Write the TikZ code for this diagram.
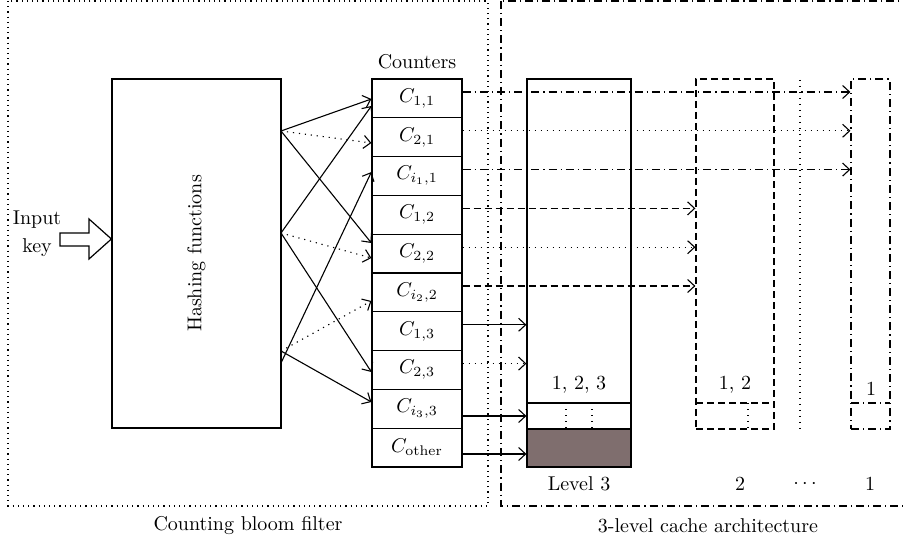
\documentclass[tikz,border=0pt]{standalone}
\usetikzlibrary{arrows.meta}
\definecolor{brownfill}{RGB}{127,110,110}
\begin{document}
\begin{tikzpicture}[x=0.5pt,y=-0.5pt,
  lw/.style={line width=0.6pt},
  box/.style={draw,lw,rectangle,inner sep=0pt},
  ctr/.style={box,minimum width=45pt,minimum height=19.4pt,font=\normalsize},
  arr/.style={line width=0.55pt,-{Straight Barb[length=3.5pt,width=6.5pt,line width=0.55pt]}},
  dsh/.style={dash pattern=on 3.5pt off 2pt},
  dot/.style={dash pattern=on 0.6pt off 2.4pt},
  dd/.style={dash pattern=on 4pt off 2pt on 0.6pt off 2pt},
  lbl/.style={inner sep=0pt,font=\normalsize}]
\useasboundingbox (0,0) rectangle (903,544);
% outer boxes
\draw[line width=0.55pt,dash pattern=on 0.6pt off 2pt] (8,1) rectangle (488,506);
\draw[line width=0.55pt,dd] (501,1) rectangle (915,506);
\node[lbl] (cap1) at (248,526) {Counting bloom filter};
\node[lbl] (cap2) at (708,526) {3-level cache architecture};
% hashing
\node[box,minimum width=84.5pt,minimum height=174.5pt] (hash) at (196.5,253.5) {};
\node[lbl,rotate=90] (hashtxt) at (hash.center) {Hashing functions};
\node[lbl] (in1) at (37,220) {Input};
\node[lbl] (in2) at (37,248) {key};
\draw[lw] (60,233) -- (89,233) -- (89,219) -- (hash.west |- 0,239) -- (89,259) -- (89,246) -- (60,246) -- cycle;
% counters
\node[lbl] (ctitle) at (417,62) {Counters};
\node[ctr] (c1) at (417,98.4) {$C_{1,1}$};
\node[ctr] (c2) at (417,137.2) {$C_{2,1}$};
\node[ctr] (c3) at (417,176.0) {$C_{i_1,1}$};
\node[ctr] (c4) at (417,214.8) {$C_{1,2}$};
\node[ctr] (c5) at (417,253.6) {$C_{2,2}$};
\node[ctr] (c6) at (417,292.4) {$C_{i_2,2}$};
\node[ctr] (c7) at (417,331.2) {$C_{1,3}$};
\node[ctr] (c8) at (417,370.0) {$C_{2,3}$};
\node[ctr] (c9) at (417,408.8) {$C_{i_3,3}$};
\node[ctr] (c10) at (417,447.6) {$C_{\mathrm{other}}$};
% hash sources
\coordinate (hA) at (281,131);
\coordinate (hB) at (281,233);
\coordinate (hC) at (281,351);
\coordinate (hD) at (281,363);
\draw[arr] (hA) -- (c1.west |- 0,99);
\draw[arr,dot] (hA) -- (c2.west |- 0,143);
\draw[arr] (hA) -- (c5.west |- 0,243);
\draw[arr] (hB) -- (c1.west |- 0,106);
\draw[arr,dot] (hB) -- (c5.west |- 0,258);
\draw[arr] (hB) -- (c8.west |- 0,372);
\draw[arr,dot] (hC) -- (c6.west |- 0,301);
\draw[arr] (hC) -- (c9.west |- 0,402);
\draw[arr] (hD) -- (c3.west |- 0,172);
% level 3
\node[box,minimum width=52pt,minimum height=194pt] (L3) at (579,273) {};
\fill[brownfill] (527,429) rectangle (631,467);
\draw[lw] (527,429) rectangle (631,467);
\draw[lw] (527,403) -- (631,403);
\draw[lw,dot] (566,403) -- (566,429);
\draw[lw,dot] (592,403) -- (592,429);
\node[lbl] (l3a) at (579,385) {1, 2, 3};
\node[lbl] (l3b) at (579,484) {Level 3};
% level 2
\node[box,dsh,minimum width=39pt,minimum height=175pt] (L2) at (735,254) {};
\draw[lw,dsh] (696,403) -- (774,403);
\draw[lw,dot] (748,403) -- (748,429);
\node[lbl] (l2a) at (735,385) {1, 2};
\node[lbl] (l2b) at (740,484) {2};
% separator
\draw[lw,dot] (800,80) -- (800,429);
\node[lbl] (dots) at (805,484) {$\cdots$};
% level 1
\node[box,dd,minimum width=19.5pt,minimum height=175pt] (L1) at (870.5,254) {};
\draw[lw,dd] (851,403) -- (890,403);
\node[lbl] (l1a) at (871,389) {1};
\node[lbl] (l1b) at (870,484) {1};
% counter to cache arrows
\draw[arr,dd] ([yshift=3.2pt]c1.east) -- ([yshift=3.2pt]c1.east -| L1.west);
\draw[arr,dot] ([yshift=3.2pt]c2.east) -- ([yshift=3.2pt]c2.east -| L1.west);
\draw[arr,dd] ([yshift=3.2pt]c3.east) -- ([yshift=3.2pt]c3.east -| L1.west);
\draw[arr,dsh] ([yshift=3.2pt]c4.east) -- ([yshift=3.2pt]c4.east -| L2.west);
\draw[arr,dot] ([yshift=3.2pt]c5.east) -- ([yshift=3.2pt]c5.east -| L2.west);
\draw[arr,dsh] ([yshift=3.2pt]c6.east) -- ([yshift=3.2pt]c6.east -| L2.west);
\draw[arr] ([yshift=3.2pt]c7.east) -- ([yshift=3.2pt]c7.east -| L3.west);
\draw[arr,dot] ([yshift=3.2pt]c8.east) -- ([yshift=3.2pt]c8.east -| L3.west);
\draw[arr] ([yshift=-3.6pt]c9.east) -- ([yshift=-3.6pt]c9.east -| L3.west);
\draw[arr] ([yshift=-3.2pt]c10.east) -- ([yshift=-3.2pt]c10.east -| L3.west);
\end{tikzpicture}
\end{document}
